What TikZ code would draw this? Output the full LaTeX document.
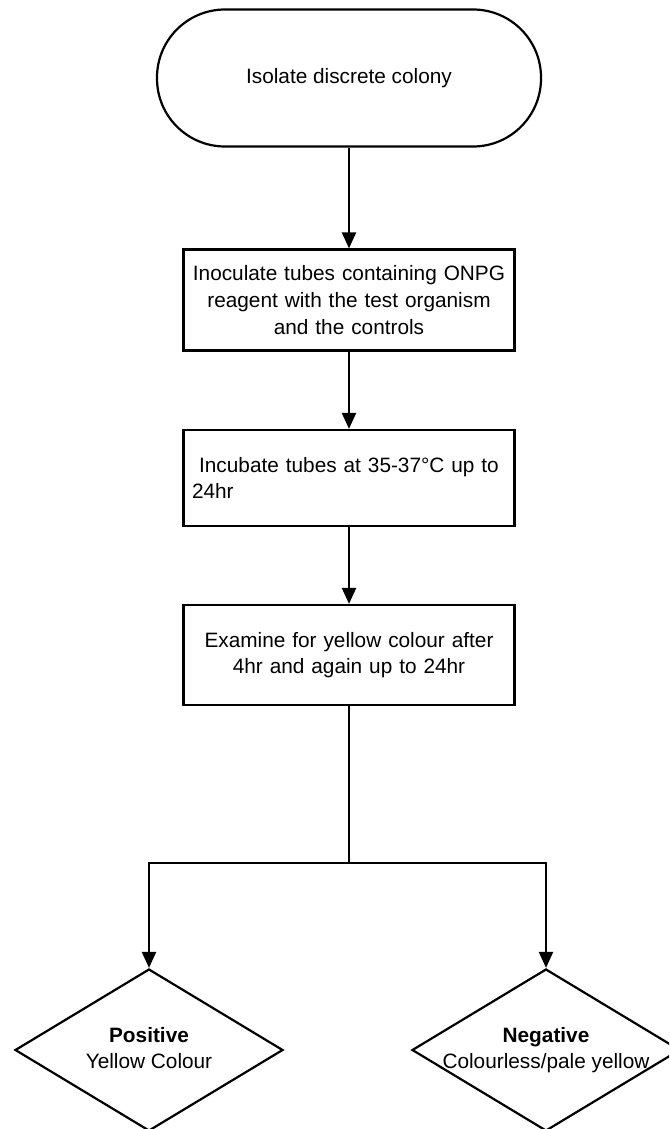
\documentclass[tikz,border=0pt]{standalone}
\usepackage{fontspec}
\setmainfont{Liberation Sans}
\usetikzlibrary{shapes.geometric, arrows.meta}
\tikzstyle{startstop} = [rectangle, rounded corners=68pt, minimum width=384pt, minimum height=137pt, text centered, draw=black]
\tikzstyle{process} = [rectangle, minimum width=331pt, text width=314pt, align=center, draw=black]
\tikzstyle{decision} = [diamond, minimum width=268pt, minimum height=162pt, inner sep=0pt, draw=black]
\tikzstyle{arrow} = [line width=2.2pt,-{Triangle[length=16pt,width=14pt]}]

\begin{document}
\begin{tikzpicture}[x=1pt, y=1pt, line width=2.2pt, font=\fontsize{20.8}{26.7}\selectfont]

        \clip (0,0) rectangle (669,-1129);

        % Nodes
        \node (isolate) [startstop] at (349,-78) {Isolate discrete colony};
        \node (inoculate) [process, minimum height=101pt, below of=isolate, node distance=222pt] {Inoculate tubes containing ONPG\\reagent with the test organism\\and the controls};
        \node (incubate) [process, minimum height=96pt, below of=inoculate, node distance=178pt] {Incubate tubes at 35-37°C up to\\\makebox[314pt][l]{24hr}};
        \node (examine) [process, minimum height=100pt, below of=incubate, node distance=177pt] {Examine for yellow colour after\\4hr and again up to 24hr};
        \node (positive) [decision] at (149,-1050) {\makebox[0pt]{\raisebox{12pt}{\begin{tabular}{@{}c@{}}\textbf{Positive}\\Yellow Colour\end{tabular}}}};
        \node (negative) [decision] at (546,-1050) {\makebox[0pt]{\raisebox{12pt}{\begin{tabular}{@{}c@{}}\textbf{Negative}\\Colourless/pale yellow\end{tabular}}}};
        \coordinate (split) at (349,-863);

        % Arrows
        \draw [arrow] (isolate) -- (inoculate);
        \draw [arrow] (inoculate) -- (incubate);
        \draw [arrow] (incubate) -- (examine);
        \draw (examine) -- (split);
        \draw [arrow] (split) -| (positive.north);
        \draw [arrow] (split) -| (negative.north);

        \end{tikzpicture}
\end{document}
